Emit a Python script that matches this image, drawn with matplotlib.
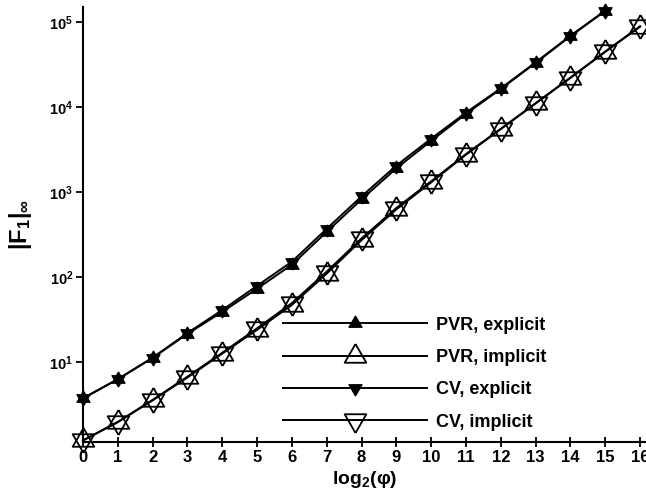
import math
import matplotlib
matplotlib.use("Agg")
import matplotlib.pyplot as plt
from matplotlib.lines import Line2D
from matplotlib.ticker import LogLocator, NullLocator, FuncFormatter

plt.rcParams['font.family'] = ['Liberation Sans', 'DejaVu Sans']
plt.rcParams['font.weight'] = 'bold'
plt.rcParams['mathtext.fontset'] = 'custom'
plt.rcParams['mathtext.rm'] = 'Liberation Sans:bold'
plt.rcParams['mathtext.bf'] = 'Liberation Sans:bold'
plt.rcParams['mathtext.it'] = 'Liberation Sans:italic:bold'

# data
x_exp = list(range(16))
pvr_exp = [3.75, 6.3, 11.2, 21.5, 39, 73, 140, 340, 820, 1900, 4000, 8300, 16300, 33000, 68000, 135000]
cv_exp = [3.75, 6.3, 11.3, 22, 41, 79, 152, 370, 890, 2050, 4250, 8600, 16600, 33500, 69000, 136000]

x_imp = list(range(17))
pvr_imp = [1.2, 1.97, 3.55, 6.6, 12.6, 24, 47, 110, 272, 625, 1300, 2750, 5500, 11000, 22000, 44500, 88000]
cv_imp = [1.2, 1.98, 3.6, 6.75, 12.9, 25, 49.5, 116, 285, 650, 1340, 2800, 5550, 11100, 22200, 45000, 89000]

labels = ['PVR, explicit', 'PVR, implicit', 'CV, explicit', 'CV, implicit']

# triangles centred on their centroid, so up + down make a star
tri_up = [(0, 1), (-0.866, -0.5), (0.866, -0.5), (0, 1)]
tri_dn = [(0, -1), (-0.866, 0.5), (0.866, 0.5), (0, -1)]

fig = plt.figure(figsize=(6.46, 5.0), dpi=100)
ax = fig.add_axes([83 / 646, 58 / 500, 563 / 646, 435 / 500])

lw = 1.4
filled = dict(color='black', lw=lw, ms=11, mfc='black', mec='black', mew=0.8, clip_on=False)
hollow = dict(color='black', lw=lw, ms=18, mfc='none', mec='black', mew=1.3, clip_on=False)

ax.plot(x_imp, pvr_imp, marker=tri_up, **hollow)
ax.plot(x_imp, cv_imp, marker=tri_dn, **hollow)
ax.plot(x_exp, pvr_exp, marker=tri_up, **filled)
ax.plot(x_exp, cv_exp, marker=tri_dn, **filled)

ax.set_yscale('log')
ax.set_xlim(0, 16.17)
ax.set_ylim(1.15, 1.5e5)
ax.set_xticks(range(17))
ax.yaxis.set_major_locator(LogLocator(base=10, numticks=10))
ax.yaxis.set_minor_locator(NullLocator())
ax.yaxis.set_major_formatter(FuncFormatter(
    lambda v, p: r'$10^{%d}$' % round(math.log10(v)) if v >= 10 else ''))

for s in ['top', 'right']:
    ax.spines[s].set_visible(False)
for s in ['left', 'bottom']:
    ax.spines[s].set_linewidth(1.5)

ax.tick_params(axis='x', direction='inout', length=7, width=1.3, labelsize=12, pad=2)
ax.tick_params(axis='y', direction='out', length=5, width=1.3, labelsize=10.5, pad=2)

ax.set_xlabel(r'log$_2$(φ)', fontsize=14, fontweight='bold', labelpad=3)
ax.set_ylabel(r'$|\mathbf{F_1}|_{\infty}$', fontsize=17)
ax.yaxis.set_label_coords(-0.087, 0.5)

handles = [
    Line2D([], [], marker=tri_up, **filled),
    Line2D([], [], marker=tri_up, **hollow),
    Line2D([], [], marker=tri_dn, **filled),
    Line2D([], [], marker=tri_dn, **hollow),
]
ax.legend(handles, labels, loc='upper left', bbox_to_anchor=(0.355, 0.288),
          frameon=False, numpoints=1, fontsize=13, handlelength=8.0,
          handletextpad=0.5, labelspacing=0.85, borderpad=0, borderaxespad=0)

fig.savefig('out.png', dpi=100)
